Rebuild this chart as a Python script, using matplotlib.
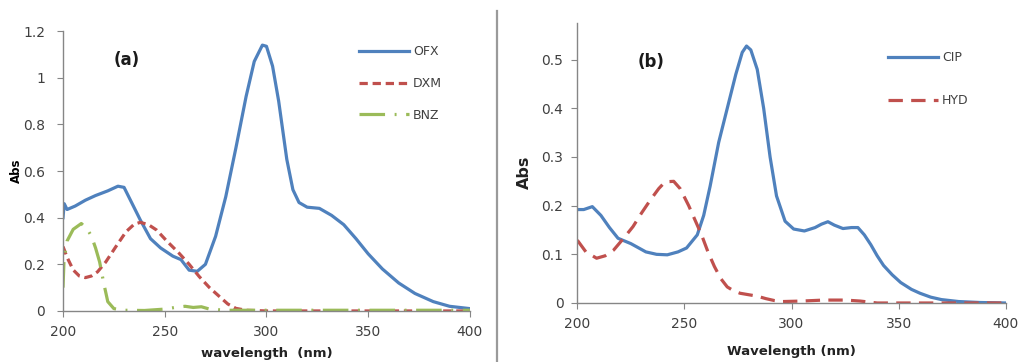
import matplotlib.pyplot as plt
from matplotlib.lines import Line2D

# panel (a)
ofx_x = [200, 200.6, 202, 206, 211, 216, 222, 227, 230, 234, 238, 243, 248, 254, 258, 262, 266, 270, 275, 280, 285, 290, 294, 298, 300, 303, 306, 310, 313, 316, 320, 326, 332, 338, 344, 350, 357, 365, 373, 382, 390, 400]
ofx_y = [0.40, 0.46, 0.435, 0.45, 0.475, 0.495, 0.515, 0.535, 0.53, 0.46, 0.39, 0.31, 0.27, 0.235, 0.22, 0.175, 0.17, 0.20, 0.32, 0.49, 0.70, 0.92, 1.07, 1.14, 1.135, 1.05, 0.90, 0.65, 0.52, 0.465, 0.445, 0.44, 0.41, 0.37, 0.31, 0.245, 0.18, 0.12, 0.075, 0.04, 0.02, 0.01]
dxm_x = [200, 202, 205, 208, 211, 214, 217, 221, 226, 231, 235, 238, 242, 246, 251, 257, 262, 267, 272, 277, 281, 285, 290, 300, 320, 350, 380, 400]
dxm_y = [0.276, 0.23, 0.176, 0.15, 0.143, 0.15, 0.168, 0.21, 0.276, 0.34, 0.372, 0.38, 0.37, 0.347, 0.30, 0.248, 0.20, 0.147, 0.10, 0.061, 0.03, 0.011, 0.003, 0.0, 0.0, 0.0, 0.0, 0.0]
bnz_x = [200, 200.5, 202, 205, 209, 212, 214, 216, 218, 220, 222, 225, 230, 240, 250, 255, 260, 264, 268, 272, 280, 300, 350, 400]
bnz_y = [0.10, 0.22, 0.30, 0.35, 0.375, 0.35, 0.32, 0.27, 0.21, 0.12, 0.04, 0.01, 0.003, 0.002, 0.008, 0.015, 0.02, 0.015, 0.018, 0.008, 0.003, 0.003, 0.003, 0.003]

# panel (b)
cip_x = [200, 203, 207, 211, 215, 219, 225, 232, 237, 242, 247, 251, 256, 259, 262, 266, 270, 274, 277, 279, 281, 284, 287, 290, 293, 297, 301, 306, 311, 314, 317, 320, 324, 328, 331, 334, 337, 340, 343, 347, 351, 356, 360, 365, 370, 378, 388, 400]
cip_y = [0.192, 0.192, 0.198, 0.18, 0.155, 0.133, 0.122, 0.105, 0.10, 0.099, 0.105, 0.113, 0.14, 0.18, 0.24, 0.33, 0.40, 0.47, 0.515, 0.528, 0.52, 0.48, 0.40, 0.30, 0.22, 0.168, 0.152, 0.148, 0.155, 0.162, 0.167, 0.16, 0.153, 0.155, 0.155, 0.14, 0.12, 0.097, 0.077, 0.058, 0.042, 0.028, 0.02, 0.012, 0.007, 0.003, 0.001, 0.0]
hyd_x = [200, 204, 209, 213, 217, 222, 226, 230, 234, 238, 241, 245, 248, 252, 255, 258, 261, 264, 267, 270, 273, 276, 280, 284, 288, 292, 296, 305, 315, 325, 332, 340, 350, 370, 400]
hyd_y = [0.129, 0.105, 0.092, 0.097, 0.109, 0.135, 0.157, 0.185, 0.211, 0.235, 0.249, 0.25, 0.235, 0.20, 0.17, 0.14, 0.105, 0.075, 0.05, 0.033, 0.025, 0.02, 0.017, 0.014, 0.009, 0.005, 0.003, 0.004, 0.006, 0.006, 0.004, 0.0, 0.0, 0.0, 0.0]

blue = '#4F81BD'
red = '#C0504D'
green = '#9BBB59'
axis_grey = '#868686'
txt = '#404040'

fig = plt.figure(figsize=(10.28, 3.62), dpi=100)
axa = fig.add_axes([0.0613, 0.141, 0.3958, 0.773])
axb = fig.add_axes([0.5616, 0.163, 0.4167, 0.773])


def style(ax, ypad):
    for s in ['top', 'right']:
        ax.spines[s].set_visible(False)
    for s in ['left', 'bottom']:
        ax.spines[s].set_color(axis_grey)
        ax.spines[s].set_linewidth(1.0)
    ax.tick_params(axis='both', colors=axis_grey, labelcolor=txt, labelsize=10, length=4, direction='out')
    ax.tick_params(axis='y', pad=ypad)
    ax.set_xlim(200, 400)
    ax.set_xticks([200, 250, 300, 350, 400])
    ax.set_xticklabels(['200', '250', '300', '350', '400'])
    ax.tick_params(axis='x', pad=6)


lw = 2.3
axa.plot(ofx_x, ofx_y, color=blue, lw=lw, label='OFX', solid_joinstyle='round')
axa.plot(dxm_x, dxm_y, color=red, lw=lw, dashes=(2.6, 1.5), label='DXM')
axa.plot(bnz_x, bnz_y, color=green, lw=lw, dashes=(8, 3, 0.6, 3), label='BNZ')
style(axa, 9)
axa.set_ylim(0, 1.2)
axa.set_yticks([0, 0.2, 0.4, 0.6, 0.8, 1.0, 1.2])
axa.set_yticklabels(['0', '0.2', '0.4', '0.6', '0.8', '1', '1.2'])
axa.set_ylabel('Abs', fontsize=8.5, fontweight='bold')
axa.yaxis.set_label_coords(-0.098, 0.5)
axa.set_xlabel('wavelength  (nm)', fontsize=9.5, fontweight='bold', color='#222222', labelpad=6)
axa.text(0.125, 0.88, '(a)', transform=axa.transAxes, fontsize=12, fontweight='bold', color='#1a1a1a')
axa.legend(loc='upper left', bbox_to_anchor=(0.7, 0.99), frameon=False, fontsize=9,
           handlelength=4.0, handletextpad=0.3, labelspacing=1.5, labelcolor=txt)

axb.plot(cip_x, cip_y, color=blue, lw=lw, label='CIP')
axb.plot(hyd_x, hyd_y, color=red, lw=lw, dashes=(4.5, 2.6), label='HYD')
style(axb, 6)
axb.set_ylim(0, 0.575)
axb.set_yticks([0, 0.1, 0.2, 0.3, 0.4, 0.5])
axb.set_yticklabels(['0', '0.1', '0.2', '0.3', '0.4', '0.5'])
axb.set_ylabel('Abs', fontsize=11.5, fontweight='bold', color='#222222')
axb.yaxis.set_label_coords(-0.105, 0.468)
axb.set_xlabel('Wavelength (nm)', fontsize=9.5, fontweight='bold', color='#222222', labelpad=10)
axb.text(0.14, 0.845, '(b)', transform=axb.transAxes, fontsize=12, fontweight='bold', color='#1a1a1a')
axb.legend(loc='upper left', bbox_to_anchor=(0.7, 0.94), frameon=False, fontsize=9,
           handlelength=4.0, handletextpad=0.3, labelspacing=2.4, labelcolor=txt)

# divider between panels
fig.add_artist(Line2D([0.4835, 0.4835], [0.0, 0.97], transform=fig.transFigure, color='#9a9a9a', lw=1.6))

fig.savefig('out.png', dpi=100)
